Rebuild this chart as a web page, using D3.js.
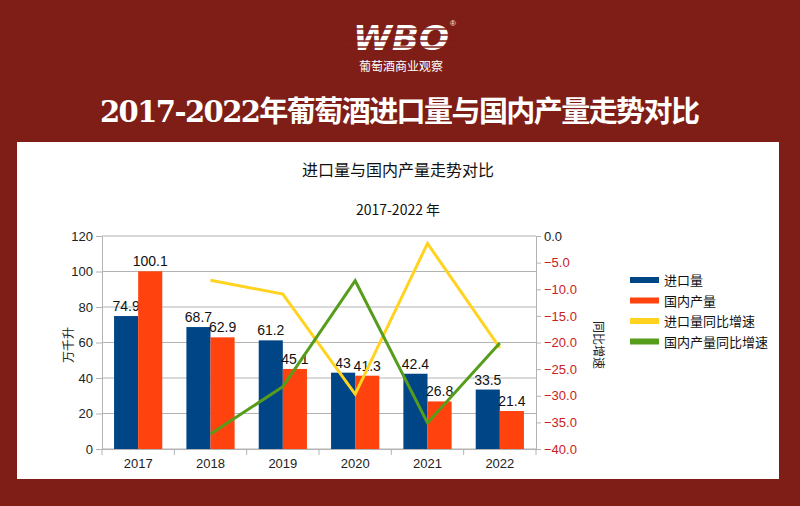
<!DOCTYPE html>
<html>
<head>
<meta charset="utf-8">
<script src="https://cdn.jsdelivr.net/npm/d3@7"></script>
<style>
  body { margin: 0; background: #7e1e16; }
  svg { display: block; }
</style>
</head>
<body>
<div id="chart"></div>
<script>
// Daten
var years = ["2017", "2018", "2019", "2020", "2021", "2022"]
var importVol = [74.9, 68.7, 61.2, 43, 42.4, 33.5]
var domesticVol = [100.1, 62.9, 45.1, 41.3, 26.8, 21.4]
var importGrowth = [null, -8.3, -10.9, -29.7, -1.4, -21.0]
var domesticGrowth = [null, -37.2, -28.3, -8.4, -35.1, -20.1]
var leftTicks = [0, 20, 40, 60, 80, 100, 120]
var rightTicks = [0, -5, -10, -15, -20, -25, -30, -35, -40]
var seriesNames = ["进口量", "国内产量", "进口量同比增速", "国内产量同比增速"]
var colors = ["#004586", "#ff420e", "#ffd320", "#579d1c"]

var width = 800
var height = 506
var bg = "#7e1e16"
var latin = "'Liberation Sans', Arial, sans-serif"
var cjk = "'Noto Sans CJK SC', sans-serif"

var svg = d3.select("#chart")
  .append("svg")
  .attr("width", width)
  .attr("height", height)

svg.append("rect").attr("width", width).attr("height", height).attr("fill", bg)

// Logo
var logo = svg.append("g")
logo.append("text")
  .attr("x", 401).attr("y", 50)
  .attr("text-anchor", "middle")
  .attr("textLength", 96)
  .attr("lengthAdjust", "spacingAndGlyphs")
  .style("font-family", "'DejaVu Sans', sans-serif")
  .style("font-weight", "bold")
  .style("font-style", "italic")
  .style("font-size", "34px")
  .attr("fill", "#fff")
  .text("WBO")
;[29, 35, 41, 47].forEach(function(y){
  logo.append("line")
    .attr("x1", 345).attr("x2", 460)
    .attr("y1", y).attr("y2", y)
    .attr("stroke", bg).attr("stroke-width", 1.6)
})
logo.append("text")
  .attr("x", 453).attr("y", 26)
  .attr("text-anchor", "middle")
  .style("font-family", latin).style("font-size", "8px")
  .attr("fill", "#fff").text("®")
logo.append("text")
  .attr("x", 401).attr("y", 71)
  .attr("text-anchor", "middle")
  .style("font-family", cjk).style("font-size", "12px")
  .attr("fill", "#fff").text("葡萄酒商业观察")

// Haupttitel
svg.append("text")
  .attr("x", 400).attr("y", 122)
  .attr("text-anchor", "middle")
  .attr("textLength", 600)
  .attr("lengthAdjust", "spacing")
  .style("font-family", "'DejaVu Serif', 'Liberation Serif', 'Noto Sans CJK SC', serif")
  .style("font-weight", "bold")
  .style("font-size", "29px")
  .attr("fill", "#fff")
  .text("2017-2022年葡萄酒进口量与国内产量走势对比")

// weisse Flaeche
svg.append("rect")
  .attr("x", 17).attr("y", 142)
  .attr("width", 762).attr("height", 337)
  .attr("fill", "#fff")

svg.append("text")
  .attr("x", 398).attr("y", 176)
  .attr("text-anchor", "middle")
  .style("font-family", cjk).style("font-size", "16px")
  .attr("fill", "#111").text("进口量与国内产量走势对比")

svg.append("text")
  .attr("x", 398).attr("y", 215)
  .attr("text-anchor", "middle")
  .style("font-family", cjk).style("font-size", "14px")
  .attr("fill", "#111").text("2017-2022 年")

// Skalen
var x = d3.scaleBand().domain(years).range([102, 536])
var xSub = d3.scaleBand().domain([0, 1]).range([0, x.bandwidth()]).paddingOuter(0.5)
var yLeft = d3.scaleLinear().domain([0, 120]).range([449, 236])
var yRight = d3.scaleLinear().domain([-40, 0]).range([449, 236])

// Gitterlinien
svg.append("g")
  .selectAll("line")
  .data(leftTicks)
  .enter()
  .append("line")
    .attr("x1", 102).attr("x2", 536)
    .attr("y1", function(d){ return yLeft(d) })
    .attr("y2", function(d){ return yLeft(d) })
    .attr("stroke", "#b3b3b3")

// Achsen
var axLeft = svg.append("g")
  .attr("transform", "translate(102,0)")
  .call(d3.axisLeft(yLeft).tickValues(leftTicks).tickSize(6).tickPadding(3))
axLeft.selectAll("text").style("font-family", latin).style("font-size", "13px").attr("fill", "#222")

var axRight = svg.append("g")
  .attr("transform", "translate(536,0)")
  .call(d3.axisRight(yRight).tickValues(rightTicks).tickSize(5).tickPadding(3).tickFormat(d3.format(".1f")))
axRight.selectAll("text").style("font-family", latin).style("font-size", "13px")
  .attr("fill", function(d){ return d < 0 ? "#c9211e" : "#222" })

var axBottom = svg.append("g")
  .attr("transform", "translate(0,449)")
  .call(d3.axisBottom(x).tickSize(0).tickPadding(10))
axBottom.selectAll("text").style("font-family", latin).style("font-size", "13px").attr("fill", "#222")
axBottom.selectAll("line.sep")
  .data(d3.range(years.length + 1))
  .enter()
  .append("line")
    .attr("class", "sep")
    .attr("x1", function(i){ return 102 + i * x.step() })
    .attr("x2", function(i){ return 102 + i * x.step() })
    .attr("y1", 0).attr("y2", 6)
    .attr("stroke", "#b3b3b3")

svg.selectAll(".domain, .tick line").attr("stroke", "#b3b3b3")

// Achsentitel
svg.append("text")
  .attr("transform", "translate(73,345) rotate(-90)")
  .attr("text-anchor", "middle")
  .style("font-family", cjk).style("font-size", "12px")
  .attr("fill", "#222").text("万千升")

svg.append("text")
  .attr("transform", "translate(594,345) rotate(90)")
  .attr("text-anchor", "middle")
  .style("font-family", cjk).style("font-size", "12px")
  .attr("fill", "#222").text("同比增速")

// Balken
var barSeries = [importVol, domesticVol]
barSeries.forEach(function(values, s){
  var g = svg.append("g")
  g.selectAll("rect")
    .data(values)
    .enter()
    .append("rect")
      .attr("x", function(d, i){ return x(years[i]) + xSub(s) })
      .attr("y", function(d){ return yLeft(d) })
      .attr("width", xSub.bandwidth())
      .attr("height", function(d){ return yLeft(0) - yLeft(d) })
      .attr("fill", colors[s])
  g.selectAll("text")
    .data(values)
    .enter()
    .append("text")
      .attr("x", function(d, i){ return x(years[i]) + xSub(s) + xSub.bandwidth() / 2 })
      .attr("y", function(d){ return yLeft(d) - 5 })
      .attr("text-anchor", "middle")
      .style("font-family", latin).style("font-size", "14px")
      .attr("fill", "#111")
      .text(function(d){ return d })
})

// Linien
var line = d3.line()
  .defined(function(d){ return d[1] != null })
  .x(function(d){ return x(d[0]) + x.bandwidth() / 2 })
  .y(function(d){ return yRight(d[1]) })

;[importGrowth, domesticGrowth].forEach(function(values, s){
  svg.append("path")
    .datum(years.map(function(yr, i){ return [yr, values[i]] }))
    .attr("d", line)
    .attr("fill", "none")
    .attr("stroke", colors[s + 2])
    .attr("stroke-width", 3)
    .attr("stroke-linejoin", "miter")
})

// Legende
var legend = svg.append("g")
  .selectAll("g")
  .data(seriesNames)
  .enter()
  .append("g")
    .attr("transform", function(d, i){ return "translate(630," + (280 + i * 20.5) + ")" })
legend.append("rect")
  .attr("x", 0).attr("y", -3)
  .attr("width", 29).attr("height", 6)
  .attr("fill", function(d, i){ return colors[i] })
legend.append("text")
  .attr("x", 34).attr("y", 5)
  .style("font-family", cjk).style("font-size", "13px")
  .attr("fill", "#111")
  .text(function(d){ return d })
</script>
</body>
</html>
